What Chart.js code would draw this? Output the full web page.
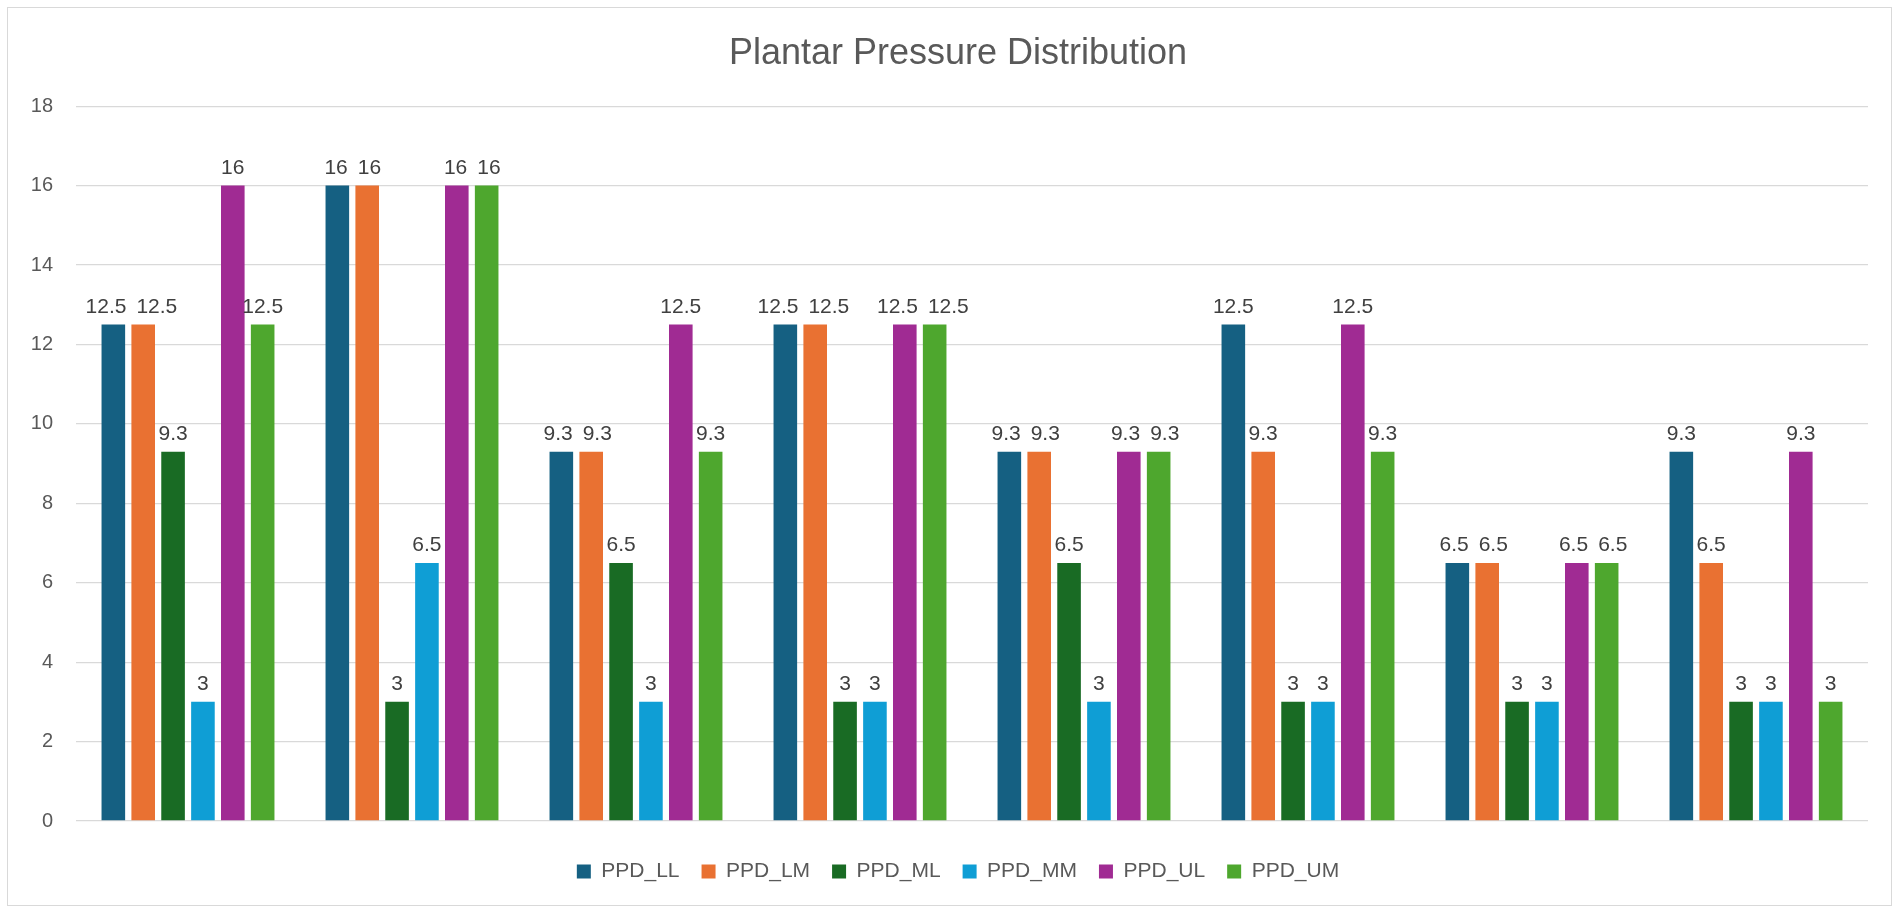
<!DOCTYPE html>
<html>
<head>
<meta charset="utf-8">
<title>Plantar Pressure Distribution</title>
<script src="https://cdn.jsdelivr.net/npm/chart.js@4.4.1/dist/chart.umd.min.js"></script>
<style>
  body { margin: 0; background: #ffffff; }
  #wrap { position: relative; width: 1894px; height: 908px; }
  #frame {
    position: absolute; left: 7px; top: 7px; width: 1883px; height: 897px;
    border: 1px solid #d9d9d9; pointer-events: none;
  }
  canvas { position: absolute; left: 0; top: 0; }
</style>
</head>
<body>
<div id="wrap">
  <canvas id="ppdChart" width="1894" height="908"></canvas>
  <div id="frame"></div>
</div>
<script>
// categories (no labels shown on the x axis in the original)
const categories = ['1', '2', '3', '4', '5', '6', '7', '8'];

// series values
const ppdLL = [12.5, 16, 9.3, 12.5, 9.3, 12.5, 6.5, 9.3];
const ppdLM = [12.5, 16, 9.3, 12.5, 9.3, 9.3, 6.5, 6.5];
const ppdML = [9.3, 3, 6.5, 3, 6.5, 3, 3, 3];
const ppdMM = [3, 6.5, 3, 3, 3, 3, 3, 3];
const ppdUL = [16, 16, 12.5, 12.5, 9.3, 12.5, 6.5, 9.3];
const ppdUM = [12.5, 16, 9.3, 12.5, 9.3, 9.3, 6.5, 3];

const seriesNames = ['PPD_LL', 'PPD_LM', 'PPD_ML', 'PPD_MM', 'PPD_UL', 'PPD_UM'];
const seriesData = [ppdLL, ppdLM, ppdML, ppdMM, ppdUL, ppdUM];
const colors = ['#156082', '#E97132', '#196B24', '#0F9ED5', '#A02B93', '#4EA72E'];

// y axis ticks
const yMin = 0;
const yMax = 18;
const yStep = 2;

const fontFamily = '"Liberation Sans", Arial, sans-serif';

// draws the value above every bar, like the excel data labels.
// labels of neighbour bars with the same height get pushed apart so they don't overlap
const barLabels = {
    id: 'barLabels',
    afterDatasetsDraw(chart){
        const ctx = chart.ctx;
        ctx.save();
        ctx.font = '21px ' + fontFamily;
        ctx.fillStyle = '#404040';
        ctx.textAlign = 'center';
        ctx.textBaseline = 'alphabetic';
        const nSets = chart.data.datasets.length;
        for(let j = 0; j < chart.data.labels.length; j++){
            // collect labels of one category, left to right
            let items = [];
            for(let i = 0; i < nSets; i++){
                const bar = chart.getDatasetMeta(i).data[j];
                const text = String(chart.data.datasets[i].data[j]);
                items.push({ text: text, x: bar.x, y: bar.y - 12, w: ctx.measureText(text).width });
            }
            for(let k = 1; k < items.length; k++){
                const a = items[k-1];
                const b = items[k];
                if(Math.abs(a.y - b.y) > 16) continue;
                const need = (a.w + b.w) / 2 + 10;
                const d = need - (b.x - a.x);
                if(d > 0){
                    a.x -= d * 0.35;
                    b.x += d * 0.65;
                }
            }
            items.forEach((it) => ctx.fillText(it.text, it.x, it.y));
        }
        ctx.restore();
    }
};

const datasets = seriesNames.map((name, i) => ({
    label: name,
    data: seriesData[i],
    backgroundColor: colors[i],
    borderWidth: 0,
    categoryPercentage: 0.8,
    barPercentage: 0.79
}));

new Chart(document.getElementById('ppdChart'), {
    type: 'bar',
    data: { labels: categories, datasets: datasets },
    plugins: [barLabels],
    options: {
        responsive: false,
        animation: false,
        layout: { padding: { left: 48, right: 26, top: 0, bottom: 16 } },
        plugins: {
            title: {
                display: true,
                text: 'Plantar Pressure Distribution',
                color: '#595959',
                font: { family: fontFamily, size: 36, weight: 'normal' },
                padding: { top: 32, bottom: 31 }
            },
            legend: {
                position: 'bottom',
                labels: {
                    boxWidth: 14,
                    boxHeight: 14,
                    padding: 22,
                    color: '#595959',
                    font: { family: fontFamily, size: 21 }
                }
            },
            tooltip: { enabled: false }
        },
        scales: {
            x: {
                ticks: { display: false },
                grid: { display: false },
                border: { display: false },
                afterFit(scale){ scale.height = 18; }
            },
            y: {
                min: yMin,
                max: yMax,
                ticks: {
                    stepSize: yStep,
                    padding: 23,
                    color: '#595959',
                    font: { family: fontFamily, size: 20 }
                },
                grid: { color: '#d9d9d9', lineWidth: 1.3, drawTicks: false },
                border: { display: false },
                afterFit(scale){
                    scale.width = 28;
                    // the labels stick out left of the narrow axis box, so don't clip them
                    scale._computeLabelArea = () => undefined;
                }
            }
        }
    }
});
</script>
</body>
</html>
